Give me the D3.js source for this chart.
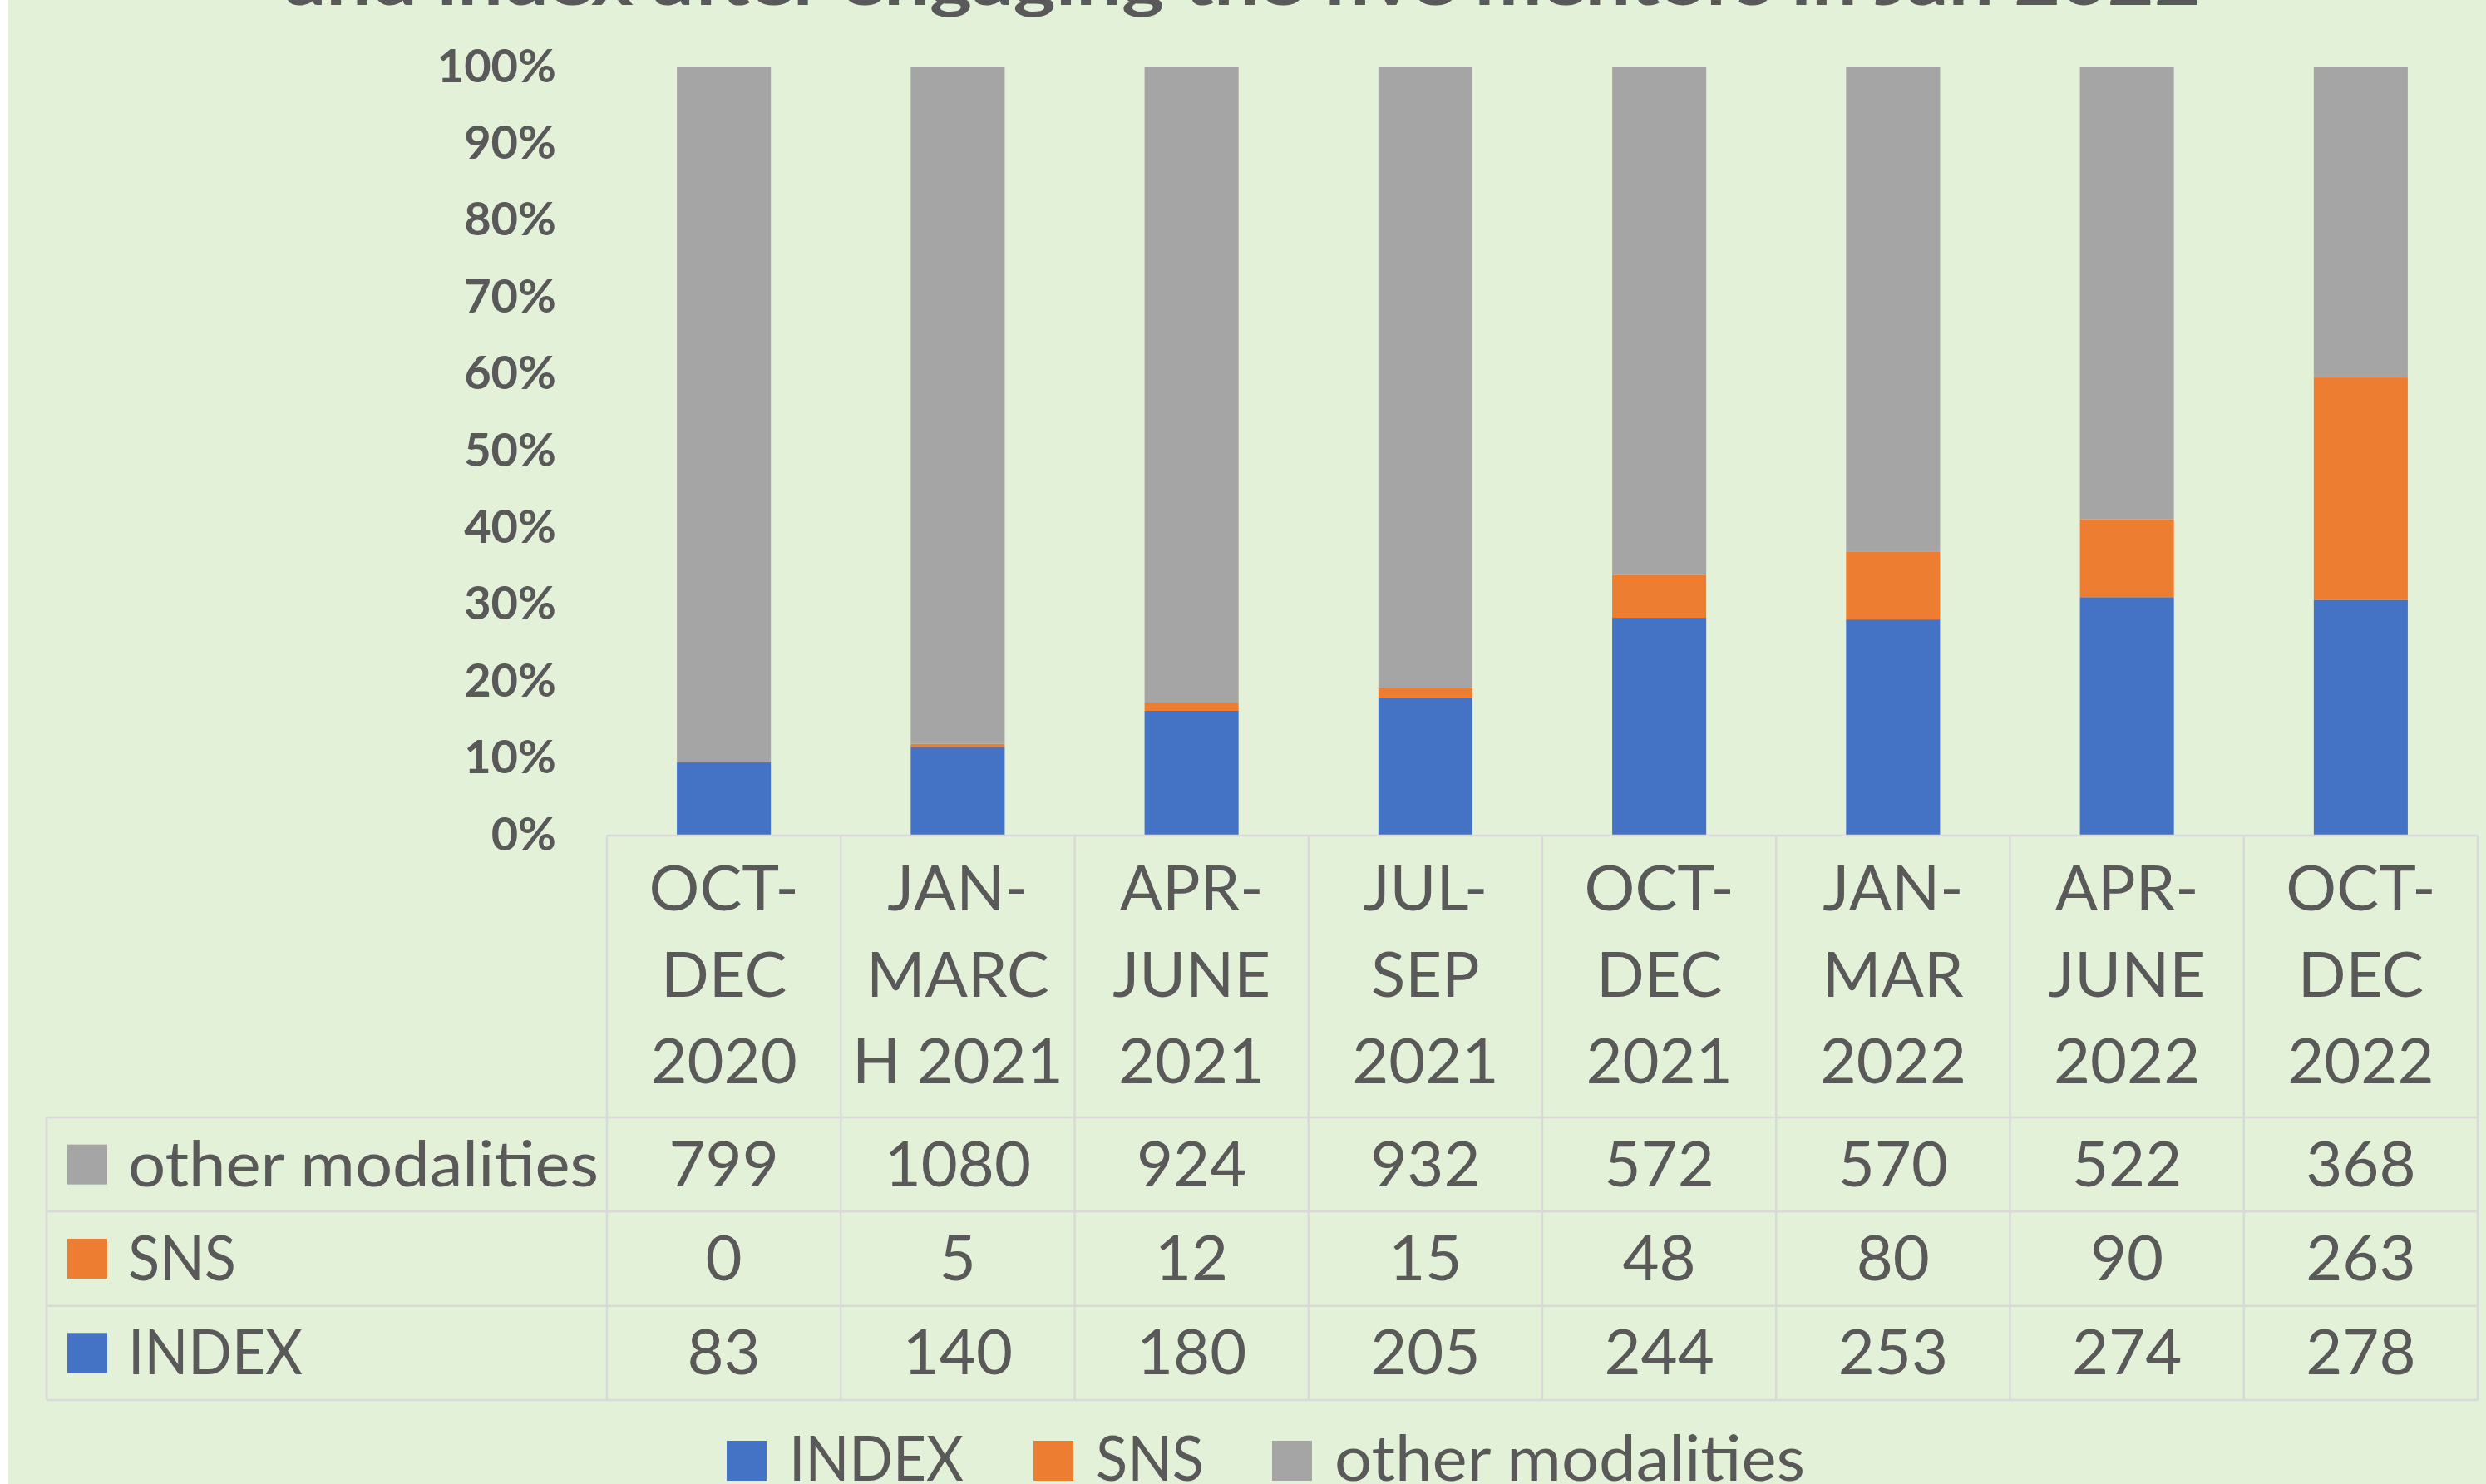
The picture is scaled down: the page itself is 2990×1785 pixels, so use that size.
<!DOCTYPE html>
<html>
<head>
<meta charset="utf-8">
<script src="https://cdn.jsdelivr.net/npm/d3@7"></script>
<style>
  html, body { margin: 0; padding: 0; background: #ffffff; }
  svg { display: block; }
</style>
</head>
<body>
<script>
// ---------- data ----------
const categories = ["OCT-DEC 2020", "JAN-MARCH 2021", "APR-JUNE 2021", "JUL-SEP 2021",
                    "OCT-DEC 2021", "JAN-MAR 2022", "APR-JUNE 2022", "OCT-DEC 2022"];
const categoryLines = [
  ["OCT-", "DEC", "2020"], ["JAN-", "MARC", "H 2021"], ["APR-", "JUNE", "2021"], ["JUL-", "SEP", "2021"],
  ["OCT-", "DEC", "2021"], ["JAN-", "MAR", "2022"], ["APR-", "JUNE", "2022"], ["OCT-", "DEC", "2022"]
];
const indexValues = [83, 140, 180, 205, 244, 253, 274, 278];
const snsValues = [0, 5, 12, 15, 48, 80, 90, 263];
const otherValues = [799, 1080, 924, 932, 572, 570, 522, 368];
const seriesNames = ["INDEX", "SNS", "other modalities"];
const seriesColors = ["#4472C4", "#ED7D31", "#A5A5A5"];
const yTicks = [0, 0.1, 0.2, 0.3, 0.4, 0.5, 0.6, 0.7, 0.8, 0.9, 1.0];
const titleText = "and index after engaging the five mentors in Jan 2022";

// ---------- setup ----------
const W = 2990, H = 1785;
const textColor = "#595959";
const gridColor = "#D9D9D9";
const font = "Lato, 'Open Sans', sans-serif";
// measured label widths (to mimic the original font's proportions)
const labelWidth = { "INDEX": 210, "SNS": 130, "other modalities": 566 };

const svg = d3.select("body").append("svg").attr("width", W).attr("height", H);
svg.append("rect").attr("x", 0).attr("y", 0).attr("width", W).attr("height", H).attr("fill", "#ffffff");
svg.append("rect").attr("x", 10).attr("y", 0).attr("width", W - 10).attr("height", H).attr("fill", "#E4F1D9");

// title (mostly cut off at the top, as in the original)
svg.append("text")
  .attr("x", W / 2).attr("y", 6)
  .attr("text-anchor", "middle")
  .attr("font-family", font).attr("font-weight", 700).attr("font-size", 76)
  .attr("fill", textColor)
  .attr("textLength", 2304).attr("lengthAdjust", "spacingAndGlyphs")
  .text(titleText);

// ---------- scales ----------
const tableLeft = 56, colLeft = 730, tableRight = 2980;
const x = d3.scaleBand().domain(categories).range([colLeft, tableRight])
  .paddingInner(0.598).paddingOuter(0.299);
const y = d3.scaleLinear().domain([0, 1]).range([1004, 80]);

// stacked data
const rows = categories.map((c, i) => ({
  cat: c, "INDEX": indexValues[i], "SNS": snsValues[i], "other modalities": otherValues[i]
}));
const stack = d3.stack().keys(seriesNames).offset(d3.stackOffsetExpand);
const stacked = stack(rows);

svg.append("g").selectAll("g")
  .data(stacked).join("g")
  .attr("fill", (d, i) => seriesColors[i])
  .selectAll("rect")
  .data(d => d).join("rect")
  .attr("x", d => x(d.data.cat))
  .attr("width", x.bandwidth())
  .attr("y", d => y(d[1]))
  .attr("height", d => Math.max(0, y(d[0]) - y(d[1])));

// y axis labels
const yAxis = d3.axisLeft(y).tickValues(yTicks).tickFormat(d3.format(".0%")).tickSize(0).tickPadding(0);
const yg = svg.append("g").attr("transform", "translate(669,0)").call(yAxis);
yg.select(".domain").remove();
yg.selectAll("text")
  .attr("font-family", font).attr("font-weight", 700).attr("font-size", 56)
  .attr("fill", textColor).attr("dy", null)
  .attr("y", 18).attr("x", 0).attr("text-anchor", "end");

// ---------- data table ----------
const headerTop = 1005, headerBottom = 1344;
const rowH = (1684 - 1344) / 3;
const tableRows = [
  { name: "other modalities", values: otherValues, color: seriesColors[2] },
  { name: "SNS", values: snsValues, color: seriesColors[1] },
  { name: "INDEX", values: indexValues, color: seriesColors[0] }
];
const tg = svg.append("g");
const colStep = x.step();
tg.append("line").attr("x1", colLeft).attr("x2", tableRight).attr("y1", headerTop).attr("y2", headerTop);
for (let r = 0; r <= 3; r++) {
  const yy = headerBottom + r * rowH;
  tg.append("line").attr("x1", tableLeft).attr("x2", tableRight).attr("y1", yy).attr("y2", yy);
}
for (let c = 0; c <= categories.length; c++) {
  const xx = colLeft + c * colStep;
  tg.append("line").attr("x1", xx).attr("x2", xx).attr("y1", headerTop).attr("y2", headerBottom + 3 * rowH);
}
tg.append("line").attr("x1", tableLeft).attr("x2", tableLeft).attr("y1", headerBottom).attr("y2", headerBottom + 3 * rowH);
tg.selectAll("line").attr("stroke", gridColor).attr("stroke-width", 2.5);

// category labels
const catG = svg.append("g");
categories.forEach((c, i) => {
  const cx = x(c) + x.bandwidth() / 2;
  categoryLines[i].forEach((ln, j) => {
    catG.append("text")
      .attr("x", cx).attr("y", 1095 + j * 104)
      .attr("text-anchor", "middle")
      .attr("font-family", font).attr("font-size", 76).attr("fill", textColor)
      .text(ln);
  });
});

// table rows
tableRows.forEach((r, ri) => {
  const cy = headerBottom + ri * rowH + rowH / 2;
  svg.append("rect").attr("x", 81).attr("y", cy - 24).attr("width", 48).attr("height", 48).attr("fill", r.color);
  svg.append("text").attr("x", 154).attr("y", cy + 26)
    .attr("font-family", font).attr("font-size", 76).attr("fill", textColor)
    .attr("textLength", labelWidth[r.name]).attr("lengthAdjust", "spacingAndGlyphs")
    .text(r.name);
  r.values.forEach((v, ci) => {
    svg.append("text")
      .attr("x", x(categories[ci]) + x.bandwidth() / 2).attr("y", cy + 26)
      .attr("text-anchor", "middle")
      .attr("font-family", font).attr("font-size", 76).attr("fill", textColor)
      .text(v);
  });
});

// ---------- legend ----------
const legendX = [874, 1243, 1530];
seriesNames.forEach((n, i) => {
  svg.append("rect").attr("x", legendX[i]).attr("y", 1733).attr("width", 48).attr("height", 48).attr("fill", seriesColors[i]);
  svg.append("text").attr("x", legendX[i] + 75).attr("y", 1781)
    .attr("font-family", font).attr("font-size", 76).attr("fill", textColor)
    .attr("textLength", labelWidth[n]).attr("lengthAdjust", "spacingAndGlyphs")
    .text(n);
});
</script>
</body>
</html>
